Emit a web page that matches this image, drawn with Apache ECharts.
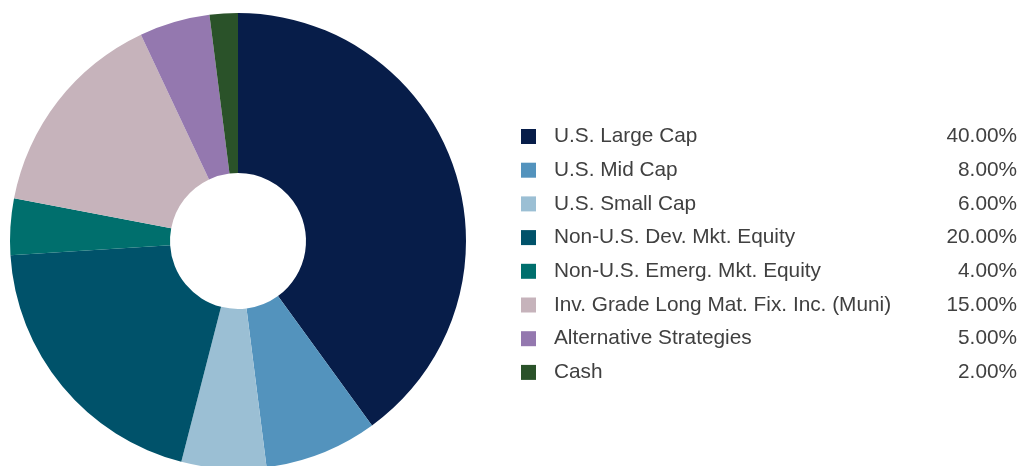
<!DOCTYPE html>
<html>
<head>
<meta charset="utf-8">
<style>
  html, body { margin: 0; padding: 0; background: #ffffff; }
  #chart { width: 1021px; height: 466px; }
</style>
<script src="https://cdn.jsdelivr.net/npm/echarts@6/dist/echarts.min.js"></script>
</head>
<body>
<div id="chart"></div>
<script>
// Asset allocation by class (percent of portfolio)
const categories = [
  'U.S. Large Cap',
  'U.S. Mid Cap',
  'U.S. Small Cap',
  'Non-U.S. Dev. Mkt. Equity',
  'Non-U.S. Emerg. Mkt. Equity',
  'Inv. Grade Long Mat. Fix. Inc. (Muni)',
  'Alternative Strategies',
  'Cash'
];
const weights = [40, 8, 6, 20, 4, 15, 5, 2];
const colors = ['#071d49', '#5393bd', '#9bbfd4', '#00526a', '#006f6d', '#c6b3bb', '#9478af', '#2a5229'];

const pieData = categories.map((name, i) => ({
  name: name,
  value: weights[i],
  itemStyle: { color: colors[i] }
}));

const FONT = '"Liberation Sans", Arial, sans-serif';

const chart = echarts.init(document.getElementById('chart'), null, { renderer: 'canvas' });

chart.setOption({
  animation: false,
  backgroundColor: '#ffffff',
  legend: {
    orient: 'vertical',
    left: 521,
    top: 126,
    padding: 0,
    icon: 'rect',
    itemWidth: 15,
    itemHeight: 15,
    itemGap: 12.7,
    selectedMode: false,
    data: categories,
    formatter: function (name) {
      const i = categories.indexOf(name);
      return '{n|' + name + '}{v|' + weights[i].toFixed(2) + '%}';
    },
    textStyle: {
      fontFamily: FONT,
      rich: {
        n: {
          fontFamily: FONT,
          fontSize: 20.8,
          color: '#404040',
          width: 380,
          lineHeight: 20,
          padding: [0, 0, 0, 13]
        },
        v: {
          fontFamily: FONT,
          fontSize: 20.8,
          color: '#404040',
          width: 83,
          lineHeight: 20,
          align: 'right'
        }
      }
    }
  },
  series: [{
    type: 'pie',
    center: [238, 241],
    radius: [68, 228],
    startAngle: 90,
    clockwise: true,
    label: { show: false },
    labelLine: { show: false },
    emphasis: { disabled: true },
    itemStyle: { borderWidth: 0 },
    data: pieData
  }]
});
</script>
</body>
</html>
